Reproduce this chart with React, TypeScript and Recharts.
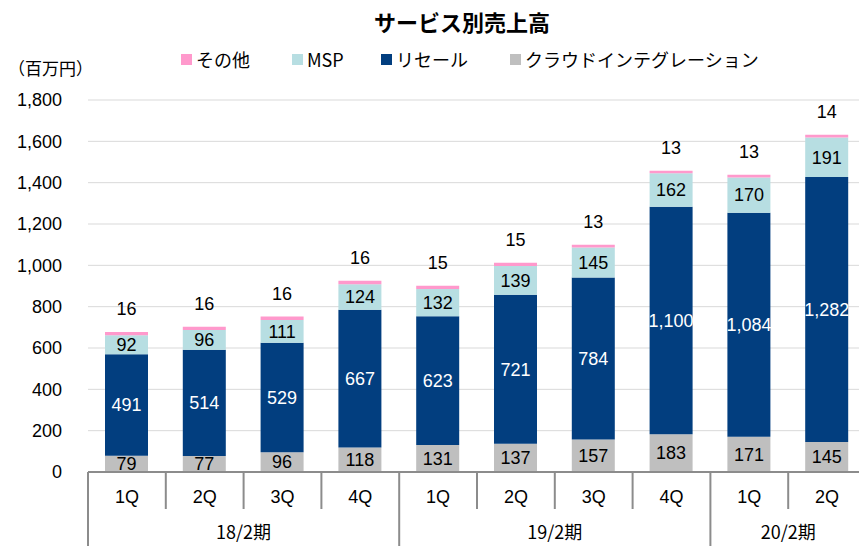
import React from 'react';
import { BarChart, Bar, XAxis, YAxis, CartesianGrid, LabelList } from 'recharts';

const quarters = ['1Q', '2Q', '3Q', '4Q', '1Q', '2Q', '3Q', '4Q', '1Q', '2Q'];
const fiscalYears = ['18/2期', '18/2期', '18/2期', '18/2期', '19/2期', '19/2期', '19/2期', '19/2期', '20/2期', '20/2期'];
const cloudIntegration = [79, 77, 96, 118, 131, 137, 157, 183, 171, 145];
const resale = [491, 514, 529, 667, 623, 721, 784, 1100, 1084, 1282];
const msp = [92, 96, 111, 124, 132, 139, 145, 162, 170, 191];
const other = [16, 16, 16, 16, 15, 15, 13, 13, 13, 14];
const yTicks = [0, 200, 400, 600, 800, 1000, 1200, 1400, 1600, 1800];

const title = 'サービス別売上高';
const unitLabel = '（百万円）';

const COLORS = {
  other: '#FF99CC',
  msp: '#B7DEE2',
  resale: '#023E7F',
  cloud: '#BFBFBF',
};

const legendItems = [
  { name: 'その他', color: COLORS.other, x: 181 },
  { name: 'MSP', color: COLORS.msp, x: 292 },
  { name: 'リセール', color: COLORS.resale, x: 381 },
  { name: 'クラウドインテグレーション', color: COLORS.cloud, x: 510 },
];

const data = quarters.map((q, i) => ({
  idx: i,
  q,
  fy: fiscalYears[i],
  cloud: cloudIntegration[i],
  resale: resale[i],
  msp: msp[i],
  other: other[i],
}));

const CHART_W = 870;
const CHART_H = 546;
const MARGIN = { top: 100, right: 4, left: 8, bottom: 0 };
const Y_AXIS_W = 80;
const X_AXIS_H = 74;
const PLOT_LEFT = MARGIN.left + Y_AXIS_W;
const PLOT_W = CHART_W - MARGIN.right - PLOT_LEFT;
const STEP = PLOT_W / quarters.length;
const AXIS_Y = CHART_H - MARGIN.bottom - X_AXIS_H;

const NUM_FONT = "'Liberation Sans', Arial, 'Noto Sans CJK JP', sans-serif";
const JP_FONT = "'Noto Sans CJK JP', sans-serif";
const AXIS_GRAY = '#8C8C8C';

const fmt = (v: any) => Number(v).toLocaleString('en-US');

const groupOf = (i: number) => {
  let s = i;
  while (s > 0 && fiscalYears[s - 1] === fiscalYears[i]) s--;
  let e = i;
  while (e < fiscalYears.length - 1 && fiscalYears[e + 1] === fiscalYears[i]) e++;
  return { s, e };
};

const XTick = (props: any) => {
  const { x, payload } = props;
  const i: number = props.index ?? payload.index;
  const left = x - STEP / 2;
  const { s, e } = groupOf(i);
  const isStart = i === s;
  const center = (s + e) / 2;
  const showGroup = i === Math.floor(center);
  const groupX = x + (center - i) * STEP;
  return (
    <g>
      <line x1={left} x2={left} y1={AXIS_Y} y2={isStart ? CHART_H : 509} stroke={AXIS_GRAY} strokeWidth={2} />
      {i === quarters.length - 1 && (
        <line x1={x + STEP / 2} x2={x + STEP / 2} y1={AXIS_Y} y2={CHART_H} stroke={AXIS_GRAY} strokeWidth={2} />
      )}
      <text x={x} y={497} dy="0.35em" textAnchor="middle" fontSize={18} fontFamily={NUM_FONT} fill="#000">
        {payload.value}
      </text>
      {showGroup && (
        <text x={groupX} y={533} dy="0.35em" textAnchor="middle" fontSize={18} fontFamily={JP_FONT} fill="#000">
          {fiscalYears[i]}
        </text>
      )}
    </g>
  );
};

const YTick = (props: any) => {
  const { y, payload } = props;
  return (
    <text x={62} y={y} dy="0.35em" textAnchor="end" fontSize={18} fontFamily={NUM_FONT} fill="#000">
      {fmt(payload.value)}
    </text>
  );
};

const labelStyle = { fontSize: 18, fontFamily: NUM_FONT };

export default function App() {
  return (
    <div style={{ position: 'absolute', left: 0, top: 0, width: 859, height: 546, overflow: 'hidden', background: '#fff' }}>
      <div
        style={{
          position: 'absolute',
          left: 0,
          width: 924,
          top: 6,
          textAlign: 'center',
          fontFamily: JP_FONT,
          fontWeight: 'bold',
          fontSize: 22,
          lineHeight: '30px',
          color: '#000',
        }}
      >
        {title}
      </div>
      <div
        style={{
          position: 'absolute',
          left: 8,
          top: 56,
          fontFamily: JP_FONT,
          fontSize: 17,
          lineHeight: '24px',
          color: '#000',
          whiteSpace: 'nowrap',
        }}
      >
        {unitLabel}
      </div>
      {legendItems.map((it) => (
        <div
          key={it.name}
          style={{
            position: 'absolute',
            left: it.x,
            top: 46,
            height: 26,
            display: 'flex',
            alignItems: 'center',
            fontFamily: JP_FONT,
            fontSize: 18,
            color: '#000',
            whiteSpace: 'nowrap',
          }}
        >
          <span style={{ display: 'inline-block', width: 11, height: 11, background: it.color, marginRight: 4 }} />
          <span>{it.name}</span>
        </div>
      ))}
      <div style={{ position: 'absolute', left: 0, top: 0 }}>
        <BarChart width={CHART_W} height={CHART_H} data={data} margin={MARGIN} barSize={43}>
          <CartesianGrid vertical={false} stroke="#D9D9D9" />
          <XAxis
            dataKey="q"
            interval={0}
            height={X_AXIS_H}
            tickLine={false}
            axisLine={{ stroke: AXIS_GRAY, strokeWidth: 2 }}
            tick={<XTick />}
          />
          <YAxis
            width={Y_AXIS_W}
            domain={[0, 1800]}
            ticks={yTicks}
            interval={0}
            axisLine={false}
            tickLine={false}
            tick={<YTick />}
          />
          <Bar dataKey="cloud" stackId="a" fill={COLORS.cloud} isAnimationActive={false}>
            <LabelList dataKey="cloud" position="center" fill="#000" style={labelStyle} formatter={fmt} />
          </Bar>
          <Bar dataKey="resale" stackId="a" fill={COLORS.resale} isAnimationActive={false}>
            <LabelList dataKey="resale" position="center" fill="#fff" style={labelStyle} formatter={fmt} />
          </Bar>
          <Bar dataKey="msp" stackId="a" fill={COLORS.msp} isAnimationActive={false}>
            <LabelList dataKey="msp" position="center" fill="#000" style={labelStyle} formatter={fmt} />
          </Bar>
          <Bar dataKey="other" stackId="a" fill={COLORS.other} isAnimationActive={false}>
            <LabelList dataKey="other" position="top" offset={17} fill="#000" style={labelStyle} formatter={fmt} />
          </Bar>
        </BarChart>
      </div>
    </div>
  );
}
